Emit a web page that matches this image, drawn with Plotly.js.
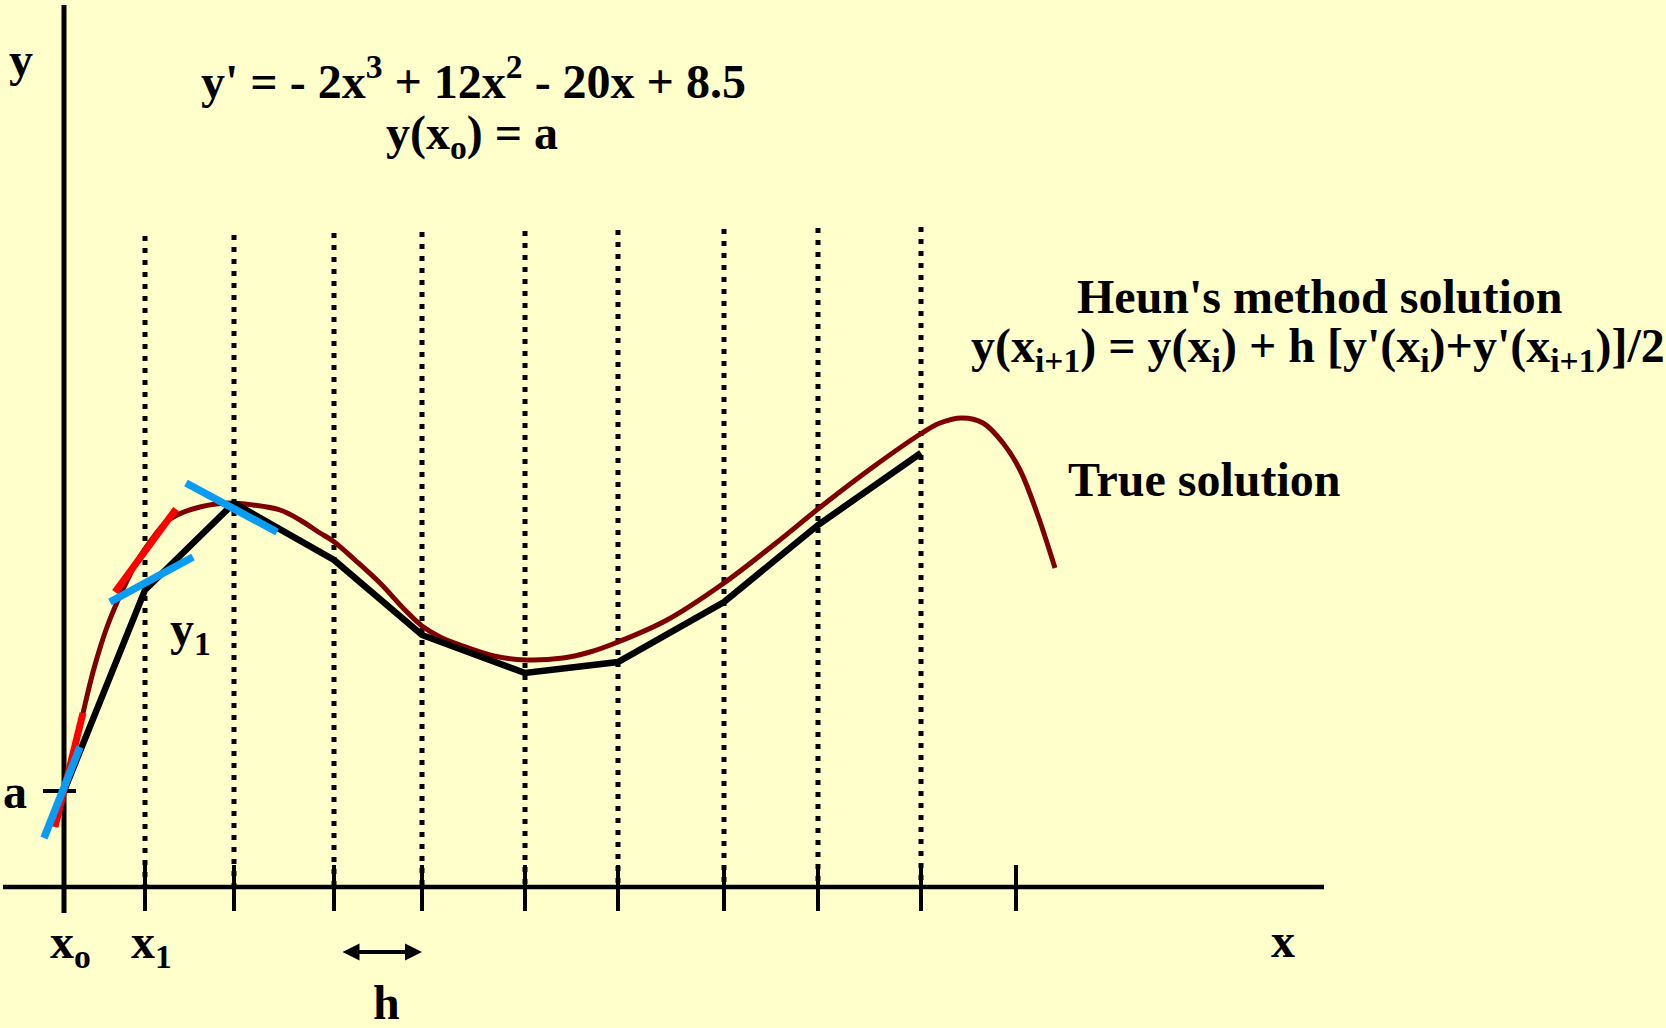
<!DOCTYPE html>
<html>
<head>
<meta charset="utf-8">
<script src="https://cdn.plot.ly/plotly-3.0.1.min.js"></script>
<style>
  html, body { margin: 0; padding: 0; background: #ffffcc; }
  #chart { width: 1666px; height: 1028px; }
</style>
</head>
<body>
<div id="chart"></div>
<script>
// Sketch coordinates: x grows to the right, y grows downward (the y axis is reversed).

// Step positions x0 ... x10 along the horizontal axis
const stepX = [64, 145, 234, 334, 422, 525, 618, 724, 818, 921, 1016];
// Top end of the dotted guide at x1 ... x9
const guideTop = [236, 235, 233, 232, 231, 230, 229, 228, 227];

// Heun's method solution at x0 ... x9
const heunY = [791, 590, 503, 560, 635, 673, 662, 602, 525, 453];

// True solution of the ODE
const trueX = [64, 72, 80, 87, 93, 100, 107, 115, 125, 135, 145, 155, 165, 177, 200, 227, 253, 280, 300, 320,
               333, 355, 380, 405, 422, 440, 460, 494, 526, 563, 590, 618, 667, 724, 776, 823, 873, 922, 940,
               962, 983, 1003, 1020, 1037, 1055];
const trueY = [791, 758, 726, 696, 672, 648, 627, 607, 585, 565, 549, 535, 523, 515, 507, 503, 505, 510, 520, 533,
               541, 560, 583, 610, 626, 637, 645, 656, 660, 658, 652, 642, 620, 583, 543, 505, 467, 433, 423,
               418, 423, 443, 470, 513, 568];

// Slope segments: predictor slopes (red) and start-point slopes (blue)
const predictorX = [[55, 83], [115, 176]];
const predictorY = [[827, 713], [592, 509]];
const slopeX = [[44, 80], [110, 193], [186, 277]];
const slopeY = [[838, 747], [602, 557], [483, 532]];

// Axes
const xAxisY = 887, xAxisStart = 3, xAxisEnd = 1324;
const yAxisTop = 5, yAxisBottom = 913;
const tickTop = 865, tickBottom = 911;
const initialY = 791, initialDash = [43, 76];

// Step-size arrow
const hArrowX = [341, 422], hArrowY = 952;

const ink = '#000000';
const trueColor = '#7f0000';
const predictorColor = '#ff0000';
const slopeColor = '#0a9bf2';

const traces = [];
function seg(x, y, color, width, dash) {
  traces.push({
    type: 'scatter', mode: 'lines', x: x, y: y, hoverinfo: 'skip', showlegend: false,
    line: { color: color, width: width, dash: dash || 'solid' }
  });
}

// dotted guides
for (let i = 1; i <= 9; i++) {
  seg([stepX[i], stepX[i]], [guideTop[i - 1], xAxisY], ink, 5, '5px,7px');
}
// horizontal axis and its ticks
seg([xAxisStart, xAxisEnd], [xAxisY, xAxisY], ink, 4.5);
for (let i = 1; i < stepX.length; i++) {
  seg([stepX[i], stepX[i]], [tickTop, tickBottom], ink, 4);
}
// vertical axis and the mark for a
seg([stepX[0], stepX[0]], [yAxisTop, yAxisBottom], ink, 5);
seg(initialDash, [initialY, initialY], ink, 4);

// true solution
traces.push({
  type: 'scatter', mode: 'lines', x: trueX, y: trueY, hoverinfo: 'skip', showlegend: false,
  line: { color: trueColor, width: 5, shape: 'spline', smoothing: 1 }
});
// Heun polyline
traces.push({
  type: 'scatter', mode: 'lines', x: stepX.slice(0, heunY.length), y: heunY, hoverinfo: 'skip', showlegend: false,
  line: { color: ink, width: 6.5 }
});
// slopes
predictorX.forEach((x, i) => seg(x, predictorY[i], predictorColor, 7));
slopeX.forEach((x, i) => seg(x, slopeY[i], slopeColor, 7.5));

const font = { family: 'Liberation Serif, Times New Roman, serif', size: 48, color: ink, weight: 'bold' };
function label(text, x, y) {
  return { text: text, x: x, y: y, xref: 'x', yref: 'y', showarrow: false,
           xanchor: 'center', yanchor: 'middle', font: font };
}

const annotations = [
  label('y', 21, 59),
  label("y' = - 2x<sup>3</sup> + 12x<sup>2</sup> - 20x + 8.5", 473, 78),
  label('y(x<sub>o</sub>) = a', 472, 136),
  label("Heun's method solution", 1319, 296),
  label("y(x<sub>i+1</sub>) = y(x<sub>i</sub>) + h [y'(x<sub>i</sub>)+y'(x<sub>i+1</sub>)]/2", 1318, 349),
  label('True solution', 1204, 479),
  label('y<sub>1</sub>', 190, 632),
  label('a', 15, 791),
  label('x<sub>o</sub>', 70, 945),
  label('x<sub>1</sub>', 151, 945),
  label('x', 1283, 940),
  label('h', 386, 1002),
  { text: '', x: hArrowX[1], y: hArrowY, ax: hArrowX[0], ay: hArrowY,
    xref: 'x', yref: 'y', axref: 'x', ayref: 'y', showarrow: true,
    arrowside: 'end+start', arrowhead: 2, startarrowhead: 2,
    arrowwidth: 4, arrowsize: 0.85, startarrowsize: 0.85, arrowcolor: ink,
    standoff: 0, startstandoff: 0 }
];

const layout = {
  width: 1666, height: 1028,
  margin: { l: 0, r: 0, t: 0, b: 0 },
  paper_bgcolor: '#ffffcc', plot_bgcolor: '#ffffcc',
  xaxis: { range: [0, 1666], visible: false, fixedrange: true },
  yaxis: { range: [1028, 0], visible: false, fixedrange: true },
  showlegend: false,
  annotations: annotations
};

Plotly.newPlot('chart', traces, layout, { staticPlot: true, displayModeBar: false });
</script>
</body>
</html>
